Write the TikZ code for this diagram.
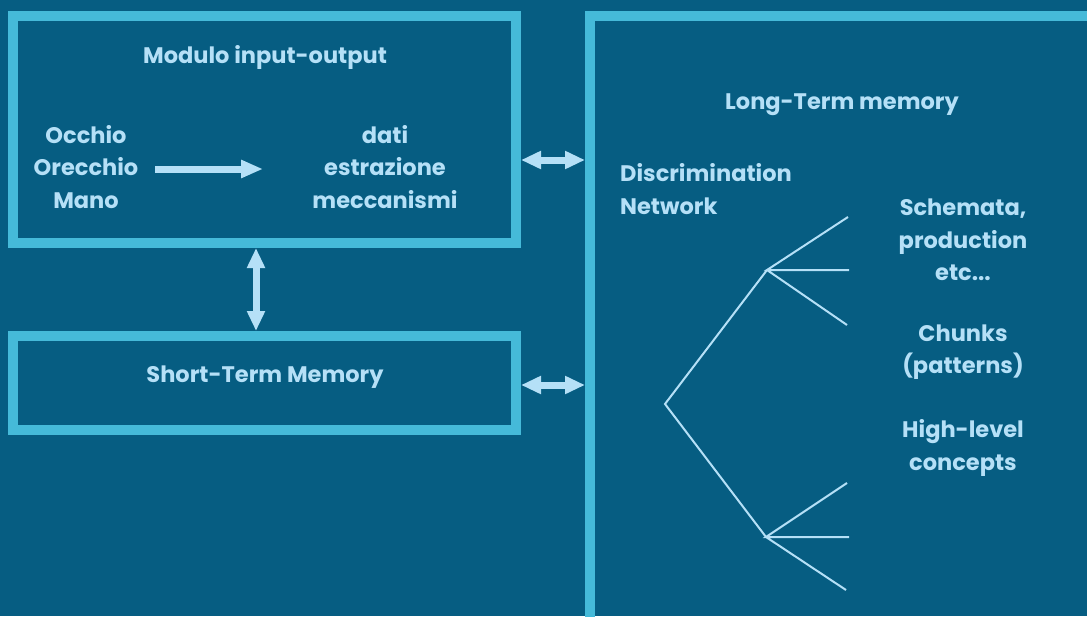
\documentclass[tikz,border=0pt]{standalone}
\usepackage{fontspec}
\setmainfont{Poppins}[Ligatures=NoCommon]
\usetikzlibrary{arrows.meta}
\definecolor{bgblue}{HTML}{065D82}
\definecolor{frame}{HTML}{45BAD9}
\definecolor{ink}{HTML}{B5E0F7}
\begin{document}
\begin{tikzpicture}[x=1pt,y=-1pt,
  box/.style={draw=frame,line width=10pt},
  lbl/.style={text=ink,font=\fontsize{22.5}{32.5}\selectfont\bfseries,align=center,inner sep=0pt},
  fat/.style={draw=ink,line width=7pt,
    {Triangle[length=20pt,width=17pt]}-{Triangle[length=20pt,width=17pt]}},
  fatone/.style={draw=ink,line width=7pt,-{Triangle[length=22pt,width=17pt]}},
  branch/.style={draw=ink,line width=2pt}]
\useasboundingbox (0,0) rectangle (1087,616);
\clip (0,0) rectangle (1087,616);
\fill[bgblue] (0,0) rectangle (1087,616);

% frames
\draw[box] (13,16) rectangle (516,243);
\draw[box] (13,336) rectangle (516,430);
\draw[box] (590,16) rectangle (1110,640);
\coordinate (io-r) at (521,160);
\coordinate (io-b) at (256,248);
\coordinate (stm-t) at (256,331);
\coordinate (stm-r) at (521,385);
\coordinate (ltm-l1) at (585,160);
\coordinate (ltm-l2) at (585,385);

% input-output module
\node[lbl] (io) at (265,57) {Modulo input-output};
\node[lbl] (senses) at (86,167) {Occhio\\Orecchio\\Mano};
\node[lbl] (mech) at (385,167) {dati\\estrazione\\meccanismi};
\coordinate (sa) at (155,169);
\coordinate (sb) at (263,169);
\draw[fatone] (sa) -- (sb);

% short-term memory
\node[lbl] (stm) at (265,377) {Short-Term Memory};

% links between the stores
\draw[fat] (io-r) -- (ltm-l1);
\draw[fat] (stm-r) -- (ltm-l2);
\draw[fat] (io-b) -- (stm-t);

% long-term memory
\node[lbl] (ltm) at (842,105) {Long-Term memory};
\node[lbl,anchor=west,align=left] (dn) at (620,189) {Discrimination\\Network};
\node[lbl] (schem) at (963,240) {Schemata,\\production\\etc...};
\node[lbl] (chunks) at (963,352) {Chunks\\(patterns)};
\node[lbl] (high) at (963,448) {High-level\\concepts};

% discrimination tree
\coordinate (root) at (665,404);
\coordinate (up) at (767,270);
\coordinate (lo) at (766,537);
\coordinate (u1) at (848,217);
\coordinate (u2) at (849,270);
\coordinate (u3) at (847,325);
\coordinate (l1) at (847,483);
\coordinate (l2) at (849,537);
\coordinate (l3) at (846,590);
\draw[branch] (up) -- (root) -- (lo);
\draw[branch] (u1) -- (up) -- (u2) (up) -- (u3);
\draw[branch] (l1) -- (lo) -- (l2) (lo) -- (l3);
\end{tikzpicture}
\end{document}
